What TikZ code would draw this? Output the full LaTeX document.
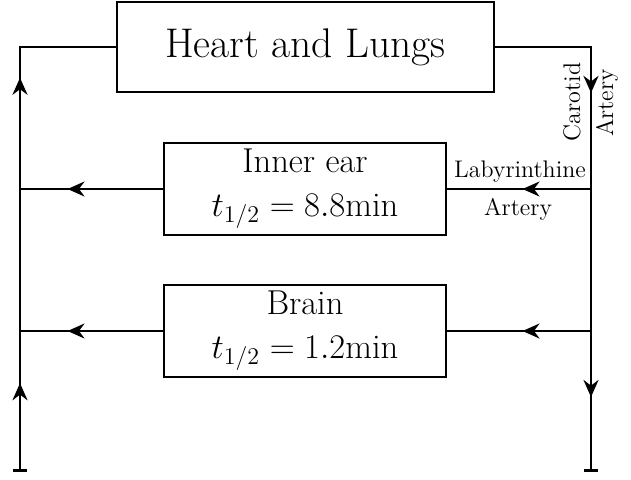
\documentclass[tikz,border=0pt]{standalone}
\usetikzlibrary{arrows.meta,decorations.markings}
\begin{document}
\begin{tikzpicture}[x=0.5pt,y=-0.5pt,line width=1.2pt,
  organ/.style={draw,line width=1.2pt,inner sep=0pt,align=center,font=\LARGE,
    minimum width=141pt,minimum height=46pt},
  vessel/.style={line width=1.4pt},
  branch/.style={line width=1.1pt},
  lbl/.style={font=\large,inner sep=0pt},
  flowtip/.tip={Stealth[length=8.5pt,width=7.5pt,inset=2.8pt]},
  endbar/.tip={Bar[width=7pt]},
  flowat/.style={postaction={decorate},decoration={markings,
    mark=at position #1 with {\arrow{flowtip}}}},
  flowtwo/.style 2 args={postaction={decorate},decoration={markings,
    mark=at position #1 with {\arrow{flowtip}},
    mark=at position #2 with {\arrow{flowtip}}}}]
\useasboundingbox (0,0) rectangle (631,479);

% organs
\node[organ,font=\huge,minimum width=188.5pt,minimum height=45pt] (heart) at (305.5,47) {Heart and Lungs};
\node[organ] (ear) at (305,189) {Inner ear\\$t_{1/2} = 8.8$min};
\node[organ] (brain) at (305,331) {Brain\\$t_{1/2} = 1.2$min};

% corner and end points of the main vessels
\coordinate (tl) at (20,47);
\coordinate (bl) at (20,472);
\coordinate (tr) at (591,47);
\coordinate (br) at (591,472);
\coordinate (earL) at (20,189);
\coordinate (earR) at (591,189);
\coordinate (brainL) at (20,331);
\coordinate (brainR) at (591,331);

% venous return (left) and arterial supply (right)
\draw[vessel,flowtwo={0.1705}{0.757},{endbar}-] (bl) -- (tl) -- (heart.west);
\draw[vessel,flowtwo={0.272}{0.856},-{endbar}] (heart.east) -- (tr) -- (br);

% branches through the organs
\draw[branch,flowat={0.476}] (earR) -- (ear.east);
\draw[branch,flowat={0.667}] (ear.west) -- (earL);
\draw[branch,flowat={0.476}] (brainR) -- (brain.east);
\draw[branch,flowat={0.667}] (brain.west) -- (brainL);

% vessel labels
\node[lbl,anchor=base] (lab1) at (520,177) {Labyrinthine};
\node[lbl,anchor=base] (lab2) at (518,215) {Artery};
\node[lbl,anchor=base,rotate=90] (car1) at (580,102) {Carotid};
\node[lbl,anchor=base,rotate=90] (car2) at (613,103) {Artery};
\end{tikzpicture}
\end{document}
